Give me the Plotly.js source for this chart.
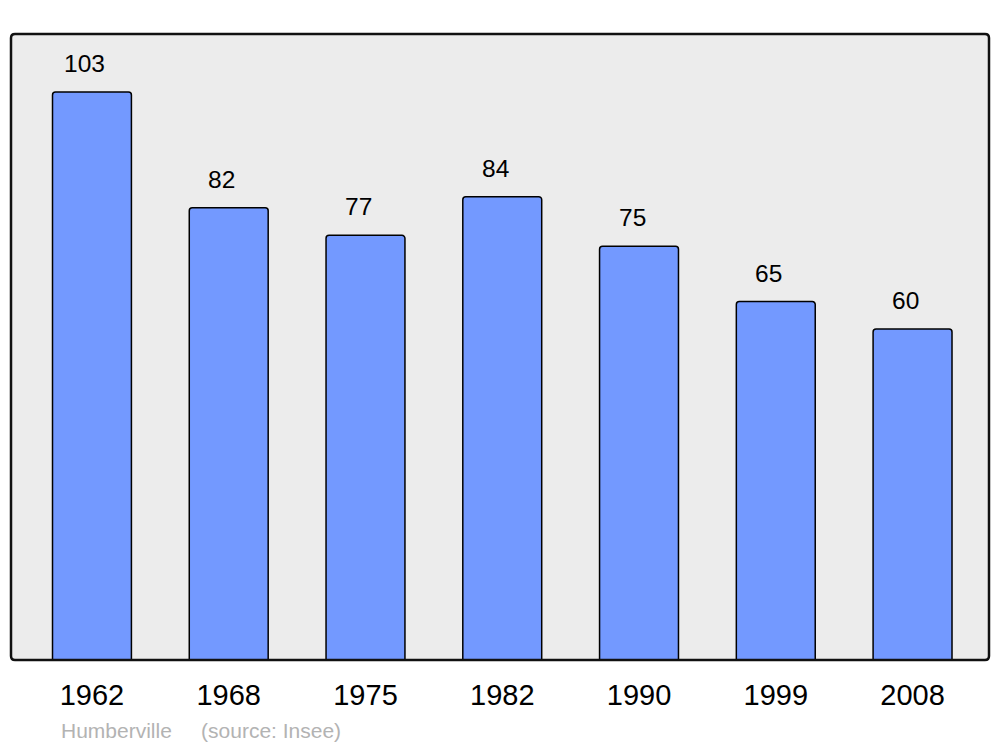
<!DOCTYPE html>
<html>
<head>
<meta charset="utf-8">
<script src="https://cdn.plot.ly/plotly-3.0.1.min.js"></script>
<style>html,body{margin:0;padding:0;background:#fff}#chart{width:1000px;height:747px}</style>
</head>
<body>
<div id="chart"></div>
<script>
var years = ["1962", "1968", "1975", "1982", "1990", "1999", "2008"];
var population = [103, 82, 77, 84, 75, 65, 60];
var footerText = "Humberville\u00a0\u00a0\u00a0\u00a0 (source: Insee)";

var W = 1000, H = 747;
var ml = 11, mr = 11, mt = 34, mb = 87;
var pw = W - ml - mr, ph = H - mt - mb;
var r = 4, rx = r / pw, ry = r / ph;

var framePath = 'M ' + rx + ',1 L ' + (1 - rx) + ',1 Q 1,1 1,' + (1 - ry) +
  ' L 1,' + ry + ' Q 1,0 ' + (1 - rx) + ',0 L ' + rx + ',0 Q 0,0 0,' + ry +
  ' L 0,' + (1 - ry) + ' Q 0,1 ' + rx + ',1 Z';

var annotations = years.map(function (y, i) {
  return {
    x: i, y: population[i], xref: 'x', yref: 'y',
    text: String(population[i]), showarrow: false,
    yanchor: 'bottom', yshift: 13, xshift: -7,
    font: {family: 'Liberation Sans, Arial, sans-serif', size: 24.5, color: '#000'}
  };
});
annotations.push({
  xref: 'paper', yref: 'paper', x: (59 - ml) / pw, y: -(730 - (H - mb)) / ph,
  xanchor: 'left', yanchor: 'middle', showarrow: false, text: footerText,
  font: {family: 'Liberation Sans, Arial, sans-serif', size: 21, color: '#b3b3b3'}
});

var data = [{
  type: 'bar', x: years, y: population, width: 0.577,
  marker: {color: '#7399ff', line: {color: '#000', width: 1.5}, cornerradius: 3},
  hoverinfo: 'skip'
}];

var layout = {
  width: W, height: H,
  margin: {l: ml, r: mr, t: mt, b: mb, pad: 0},
  paper_bgcolor: '#ffffff', plot_bgcolor: '#ececec',
  showlegend: false,
  xaxis: {
    type: 'category', range: [-0.592, 6.559], showgrid: false, zeroline: false,
    showline: false, ticks: 'outside', ticklen: 9, tickcolor: 'rgba(0,0,0,0)',
    tickfont: {family: 'Liberation Sans, Arial, sans-serif', size: 29, color: '#000'}
  },
  yaxis: {
    range: [0, 113.5], showgrid: false, zeroline: false, showline: false,
    showticklabels: false, ticks: ''
  },
  annotations: annotations,
  shapes: [{type: 'path', xref: 'paper', yref: 'paper', path: framePath,
    line: {color: '#111', width: 2.5}, layer: 'above'}]
};

Plotly.newPlot('chart', data, layout, {staticPlot: true, displayModeBar: false});
</script>
</body>
</html>
